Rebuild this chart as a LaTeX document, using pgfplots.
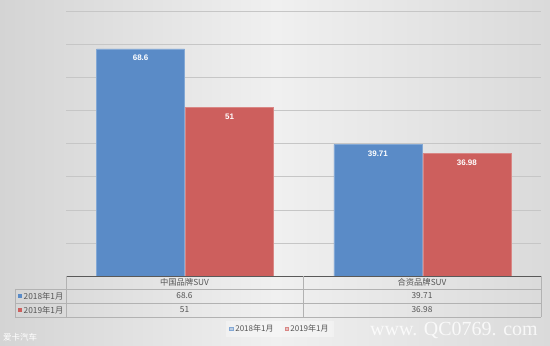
\documentclass[border=0pt]{standalone}
\usepackage{fontspec}
\setmainfont{Liberation Sans}
\newfontfamily\cjk{Noto Sans CJK SC}
\newfontfamily\wmfont{Liberation Serif}
\usepackage{pgfplots}
\pgfplotsset{compat=1.18}
\definecolor{barblue}{RGB}{90,139,199}
\definecolor{barred}{RGB}{205,95,93}
\definecolor{tgray}{RGB}{85,85,85}
\definecolor{lgray}{RGB}{198,198,198}
\definecolor{bgl}{RGB}{212,212,212}
\definecolor{bgm}{RGB}{240,240,240}
\definecolor{bgr}{RGB}{218,218,218}
\begin{document}
\begin{tikzpicture}
\fill[left color=bgl, right color=bgr, middle color=bgm] (0pt,0pt) rectangle (550pt,346pt);
\begin{axis}[at={(66.5pt,70pt)}, anchor=south west, scale only axis,
  width=474.5pt, height=265pt,
  ybar=1pt, bar width=88pt,
  xmin=-0.5, xmax=1.5, ymin=0, ymax=80,
  ytick={10,20,...,80}, yticklabels={}, xtick=\empty,
  major tick length=0pt,
  ymajorgrids, grid style={lgray, line width=0.5pt},
  axis line style={draw=none},
  /pgf/number format/assume math mode=true,
  nodes near coords,
  every node near coord/.append style={anchor=north, yshift=-3pt, font=\bfseries\fontsize{8}{9}\selectfont, text=white},
  legend style={at={(0.45,-0.2)}, anchor=center, legend columns=2, draw=none,
    fill=white, fill opacity=0.35, text opacity=1, font=\cjk\fontsize{8}{9}\selectfont, text=tgray,
    /tikz/every even column/.append style={column sep=9pt}},
  legend image code/.code={\fill[#1] (0pt,-1.5pt) rectangle (3.5pt,2pt);},
]
\addplot[fill=barblue, draw=barblue!75!white] coordinates {(0,68.6) (1,39.71)};
\addplot[fill=barred, draw=barred!75!white] coordinates {(0,51) (1,36.98)};
\legend{2018年1月,2019年1月}
\end{axis}
% data table
\draw[gray!70!black, line width=0.8pt] (66.5pt,70pt) -- (541pt,70pt);
\begin{scope}[draw=gray!60, line width=0.5pt]
\draw (15pt,57pt) -- (541pt,57pt);
\draw (15pt,43pt) -- (541pt,43pt);
\draw (15pt,29pt) -- (541pt,29pt);
\draw (15pt,57pt) -- (15pt,29pt);
\draw (66.5pt,70pt) -- (66.5pt,29pt);
\draw (303pt,70pt) -- (303pt,29pt);
\draw (541pt,70pt) -- (541pt,29pt);
\end{scope}
\begin{scope}[every node/.style={font=\cjk\fontsize{8.3}{9}\selectfont, text=tgray, inner sep=0pt}]
\node at (184.5pt,63.5pt) {中国品牌SUV};
\node at (422pt,63.5pt) {合资品牌SUV};
\node at (184.5pt,50pt) {68.6};
\node at (422pt,50pt) {39.71};
\node at (184.5pt,36pt) {51};
\node at (422pt,36pt) {36.98};
\fill[barblue] (18pt,48.3pt) rectangle (21.5pt,51.8pt);
\fill[barred] (18pt,34.3pt) rectangle (21.5pt,37.8pt);
\node[anchor=west] at (23.5pt,50pt) {2018年1月};
\node[anchor=west] at (23.5pt,36pt) {2019年1月};
\end{scope}
\node[anchor=west, text=white, font=\cjk\fontsize{8.5}{9}\selectfont, inner sep=0pt] at (3pt,9pt) {爱卡汽车};
\node[anchor=east, text=white, font=\wmfont\fontsize{20}{21}\selectfont, inner sep=0pt, opacity=0.8] at (538pt,16pt) {www. QC0769. com};
\end{tikzpicture}
\end{document}
